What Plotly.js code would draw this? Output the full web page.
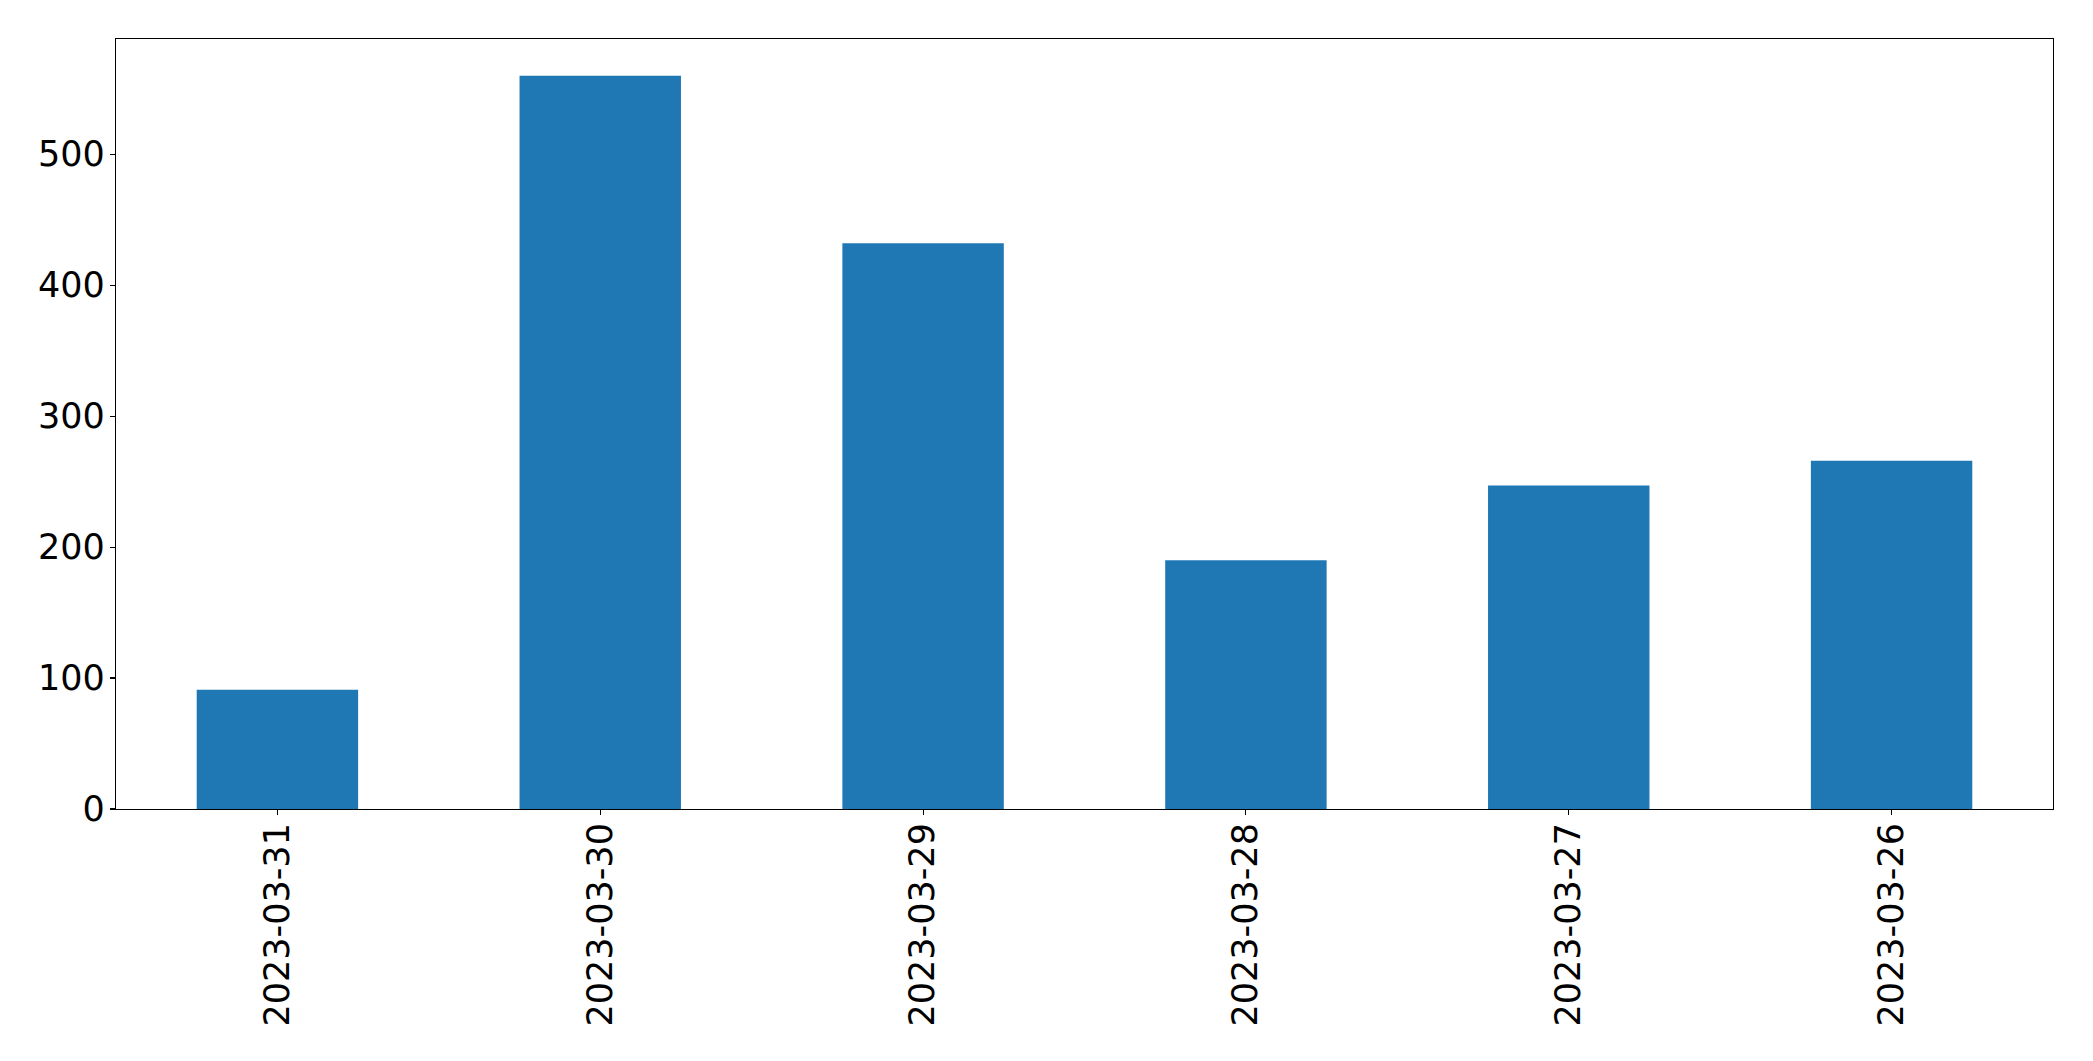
<!DOCTYPE html>
<html>
<head>
<meta charset="utf-8">
<script src="https://cdn.plot.ly/plotly-3.0.1.min.js"></script>
<style>
  html, body { margin: 0; padding: 0; background: #ffffff; }
  #chart { width: 2093px; height: 1061px; }
</style>
</head>
<body>
<div id="chart"></div>
<script>
const categories = ["2023-03-31", "2023-03-30", "2023-03-29", "2023-03-28", "2023-03-27", "2023-03-26"];
const values = [91, 560, 432, 190, 247, 266];
const yTicks = [0, 100, 200, 300, 400, 500];

const trace = {
  type: "bar",
  x: categories,
  y: values,
  width: 0.5,
  marker: { color: "#1f77b4", line: { width: 0 } },
  hoverinfo: "x+y"
};

const fontFamily = "DejaVu Sans, sans-serif";

const layout = {
  width: 2093,
  height: 1061,
  margin: { l: 116, r: 40, t: 39, b: 252, pad: 0 },
  paper_bgcolor: "#ffffff",
  plot_bgcolor: "#ffffff",
  showlegend: false,
  bargap: 0.5,
  font: { family: fontFamily, size: 35, color: "#000000" },
  xaxis: {
    type: "category",
    range: [-0.5, 5.5],
    tickangle: -90,
    ticks: "outside",
    ticklen: 5,
    tickwidth: 1.1,
    tickcolor: "#000000",
    showline: true,
    linecolor: "#000000",
    linewidth: 1.1,
    mirror: true,
    showgrid: false,
    zeroline: false,
    ticklabelstandoff: -6,
    tickfont: { family: fontFamily, size: 35, color: "#000000" }
  },
  yaxis: {
    range: [0, 588],
    tickmode: "array",
    tickvals: yTicks,
    ticktext: yTicks.map(String),
    ticks: "outside",
    ticklen: 5,
    tickwidth: 1.1,
    tickcolor: "#000000",
    showline: true,
    linecolor: "#000000",
    linewidth: 1.1,
    mirror: true,
    showgrid: false,
    zeroline: false,
    ticklabelstandoff: -2,
    tickfont: { family: fontFamily, size: 35, color: "#000000" }
  }
};

Plotly.newPlot("chart", [trace], layout, { displayModeBar: false, staticPlot: true });
</script>
</body>
</html>
